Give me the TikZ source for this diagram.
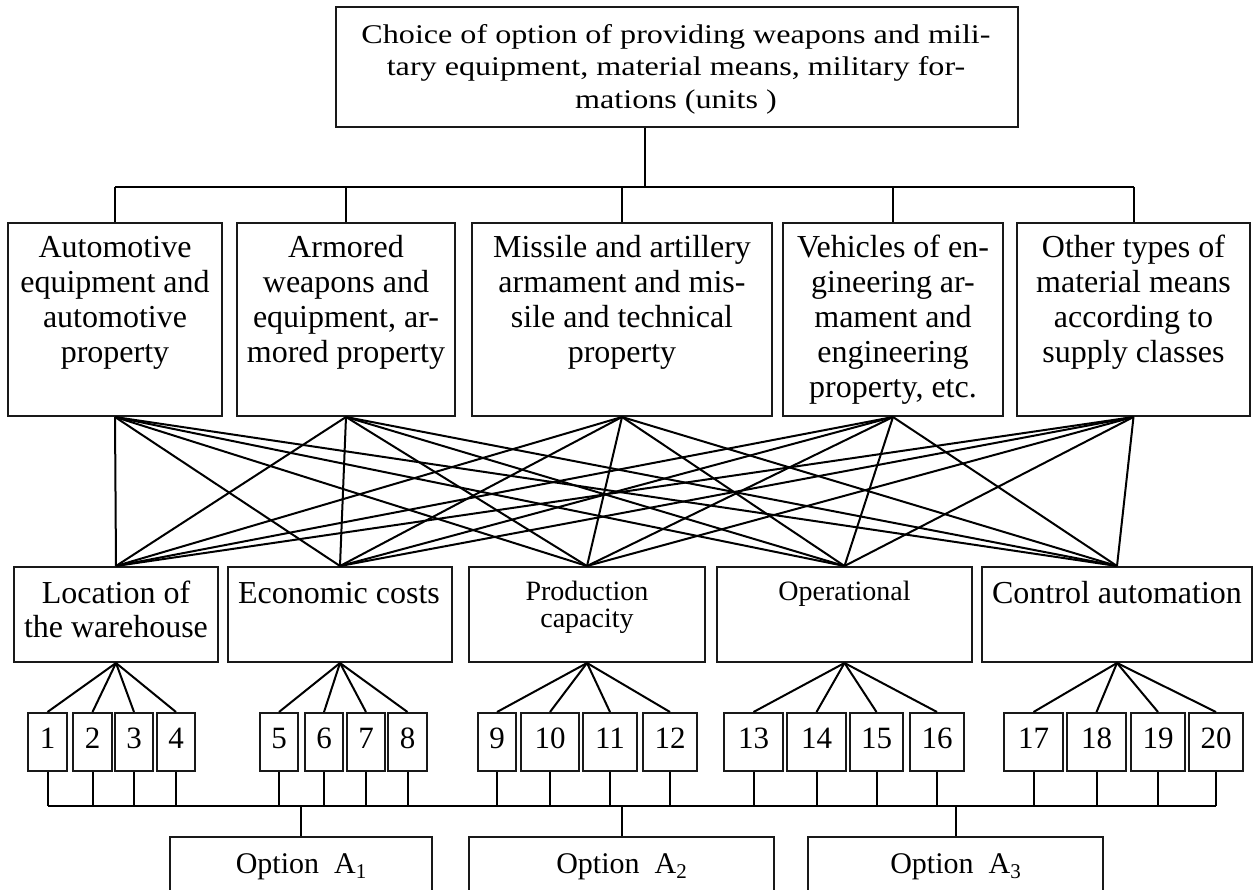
\documentclass[tikz,border=0pt]{standalone}
\usepackage{fontspec}
\setmainfont{Liberation Serif}
\newfontfamily\topfont[FakeStretch=1.19]{Liberation Serif}
\begin{document}
\begin{tikzpicture}[x=1pt,y=-1pt,
  bx/.style={draw=black!90, line width=2pt, inner sep=0pt, rectangle},
  ln/.style={draw=black, line width=2pt},
  toptext/.style={inner sep=0pt, align=center, anchor=north, font={\topfont\fontsize{27}{32.5}\selectfont}},
  bigtext/.style={inner sep=0pt, align=center, anchor=north, font={\fontsize{32}{35}\selectfont}},
  midtext/.style={inner sep=0pt, align=center, anchor=north, font={\fontsize{32}{34}\selectfont}},
  smalltext/.style={inner sep=0pt, align=center, anchor=north, font={\fontsize{28}{27}\selectfont}},
  numtext/.style={inner sep=0pt, anchor=base, font={\fontsize{31}{31}\selectfont}},
  opttext/.style={inner sep=0pt, anchor=base, font={\fontsize{30}{30}\selectfont}},
  row2/.style={bx, minimum height=193pt},
  row3/.style={bx, minimum height=95pt},
  nb/.style={bx, minimum height=58pt},
  opt/.style={bx, minimum height=63pt}]
\useasboundingbox (0,0) rectangle (1255,890);
\clip (0,0) rectangle (1255,890);

% top box
\node[bx, minimum width=682pt, minimum height=120pt] (top) at (677,67) {};
\node[toptext] (toptx) at (676,20.5) {\strut Choice of option of providing weapons and mili-\\tary equipment, material means, military for-\\mations (units )};

% second row
\node[row2, minimum width=214pt] (r1) at (115,319.5) {};
\node[row2, minimum width=218pt] (r2) at (346,319.5) {};
\node[row2, minimum width=300pt] (r3) at (622,319.5) {};
\node[row2, minimum width=220pt] (r4) at (893,319.5) {};
\node[row2, minimum width=233pt] (r5) at (1133.5,319.5) {};
\node[bigtext] (r1t) at (115,232.5) {\strut Automotive\\equipment and\\automotive\\property};
\node[bigtext] (r2t) at (346,232.5) {\strut Armored\\weapons and\\equipment, ar-\\mored property};
\node[bigtext] (r3t) at (622,232.5) {\strut Missile and artillery\\armament and mis-\\sile and technical\\property};
\node[bigtext] (r4t) at (893,232.5) {\strut Vehicles of en-\\gineering ar-\\mament and\\engineering\\property, etc.};
\node[bigtext] (r5t) at (1133.5,232.5) {\strut Other types of\\material means\\according to\\supply classes};

% third row
\node[row3, minimum width=204pt] (c1) at (116,614.5) {};
\node[row3, minimum width=224pt] (c2) at (340,614.5) {};
\node[row3, minimum width=236pt] (c3) at (587,614.5) {};
\node[row3, minimum width=255pt] (c4) at (844.5,614.5) {};
\node[row3, minimum width=270pt] (c5) at (1117,614.5) {};
\node[midtext] (c1t) at (116,579) {\strut Location of\\the warehouse};
\node[midtext] (c2t) at (339,579) {\strut Economic costs};
\node[smalltext] (c3t) at (587,581) {\strut Production\\capacity};
\node[smalltext] (c4t) at (844.5,581) {\strut Operational};
\node[midtext] (c5t) at (1117,579) {\strut Control automation};

% numbered boxes
\foreach \i/\cx/\w in {1/47.5/39, 2/92.5/39, 3/134/38, 4/176/38,
                       5/279/38, 6/324/38, 7/366/38, 8/407.5/39,
                       9/497/38, 10/550/58, 11/610/54, 12/670/54,
                       13/753.5/59, 14/816.5/59, 15/876.5/53, 16/937/54,
                       17/1033.5/59, 18/1096.5/59, 19/1158/54, 20/1216/54}{
  \node[nb, minimum width=\w pt] (n\i) at (\cx,742) {};
  \node[numtext] (n\i t) at (\cx,748) {\i};
}

% option boxes
\node[opt, minimum width=262pt] (A1) at (301,868.5) {};
\node[opt, minimum width=305pt] (A2) at (621.5,868.5) {};
\node[opt, minimum width=295pt] (A3) at (955.5,868.5) {};
\node[opttext] (A1t) at (301,873) {Option~~A\raisebox{-5pt}{\fontsize{21}{21}\selectfont 1}};
\node[opttext] (A2t) at (621.5,873) {Option~~A\raisebox{-5pt}{\fontsize{21}{21}\selectfont 2}};
\node[opttext] (A3t) at (955.5,873) {Option~~A\raisebox{-5pt}{\fontsize{21}{21}\selectfont 3}};

% top connectors
\coordinate (tj) at (645,187);
\draw[ln] (top.south -| tj) -- (tj);
\draw[ln] (r1.north |- tj) -- (r5.north |- tj);
\foreach \r in {r1,r2,r3,r4,r5}{
  \draw[ln] (\r.north |- tj) -- (\r.north);
}

% complete bipartite links
\foreach \a in {r1,r2,r3,r4,r5}{
  \foreach \b in {c1,c2,c3,c4,c5}{
    \draw[ln] (\a.south) -- (\b.north);
  }
}

% trees to numbered boxes
\foreach \i in {1,2,3,4}{\draw[ln] (c1.south) -- (n\i.north);}
\foreach \i in {5,6,7,8}{\draw[ln] (c2.south) -- (n\i.north);}
\foreach \i in {9,10,11,12}{\draw[ln] (c3.south) -- (n\i.north);}
\foreach \i in {13,14,15,16}{\draw[ln] (c4.south) -- (n\i.north);}
\foreach \i in {17,18,19,20}{\draw[ln] (c5.south) -- (n\i.north);}

% bottom bus
\coordinate (bus) at (0,806);
\draw[ln] (n1.south |- bus) -- (n20.south |- bus);
\foreach \i in {1,...,20}{\draw[ln] (n\i.south) -- (n\i.south |- bus);}
\draw[ln] (A1.north |- bus) -- (A1.north);
\draw[ln] (A2.north |- bus) -- (A2.north);
\draw[ln] (A3.north |- bus) -- (A3.north);
\end{tikzpicture}
\end{document}
